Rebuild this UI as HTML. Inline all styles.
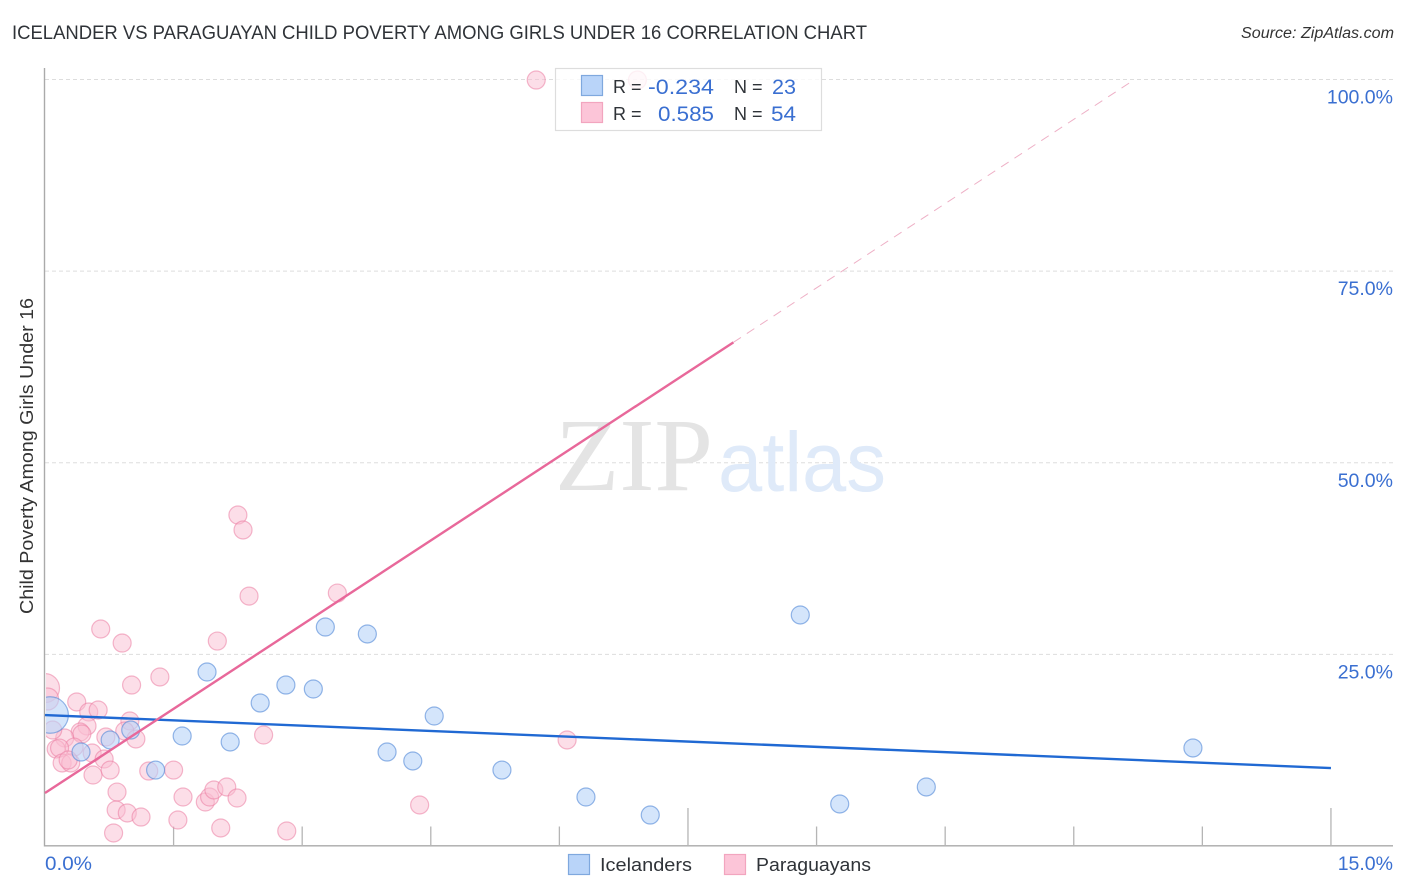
<!DOCTYPE html>
<html>
<head>
<meta charset="utf-8">
<title>Icelander vs Paraguayan Child Poverty Correlation Chart</title>
<style>
html,body{margin:0;padding:0;background:#fff;}
svg{display:block;font-family:"Liberation Sans",sans-serif;}
</style>
</head>
<body>
<svg id="chart" width="1406" height="892" viewBox="0 0 1406 892" xmlns="http://www.w3.org/2000/svg">
  <defs><clipPath id="plot-clip"><rect x="46" y="60" width="1347" height="786"/></clipPath></defs>
  <rect width="1406" height="892" fill="#fff"/>
  <text x="12" y="39" font-size="19" fill="#2f3338" textLength="855" lengthAdjust="spacingAndGlyphs">ICELANDER VS PARAGUAYAN CHILD POVERTY AMONG GIRLS UNDER 16 CORRELATION CHART</text>
  <text x="1241" y="38" font-size="15.5" font-style="italic" fill="#333" textLength="153" lengthAdjust="spacingAndGlyphs">Source: ZipAtlas.com</text>
  <g id="grid"></g>
  <g>
    <text x="555" y="490" font-family="'Liberation Serif',serif" font-size="104" fill="#e4e4e4" textLength="158" lengthAdjust="spacingAndGlyphs">ZIP</text>
    <text x="718" y="491" font-size="84" fill="#dfeaf9" textLength="168" lengthAdjust="spacingAndGlyphs">atlas</text>
  </g>
  <g id="axes"></g>
  <g id="points-paraguayans" clip-path="url(#plot-clip)"></g>
  <g id="points-icelanders" clip-path="url(#plot-clip)"></g>
  <g id="trends"></g>
  <text transform="translate(33,456) rotate(-90)" font-size="18" fill="#333" text-anchor="middle" textLength="316" lengthAdjust="spacingAndGlyphs">Child Poverty Among Girls Under 16</text>

  <g>
    <rect x="555.5" y="68.5" width="266" height="62" fill="#fff" fill-opacity="0.8" stroke="#ddd" stroke-width="1.2"/>
    <rect x="581.5" y="75.5" width="21" height="20" fill="#b9d4f9" stroke="#7fa8de" stroke-width="1.2"/>
    <rect x="581.5" y="102.5" width="21" height="20" fill="#fcc5d8" stroke="#f2a5bf" stroke-width="1.2"/>
    <g font-size="18" fill="#2f3338">
      <text x="613" y="93">R =</text>
      <text x="613" y="120">R =</text>
      <text x="734" y="93">N =</text>
      <text x="734" y="120">N =</text>
    </g>
    <g font-size="21.5" fill="#3a6fd1">
      <text x="648" y="94" textLength="66" lengthAdjust="spacingAndGlyphs">-0.234</text>
      <text x="658" y="121" textLength="56" lengthAdjust="spacingAndGlyphs">0.585</text>
      <text x="772" y="94" textLength="24" lengthAdjust="spacingAndGlyphs">23</text>
      <text x="771" y="121" textLength="25" lengthAdjust="spacingAndGlyphs">54</text>
    </g>
  </g>

  <g>
    <rect x="568.5" y="854.5" width="21" height="20" fill="#b9d4f9" stroke="#7fa8de" stroke-width="1.2"/>
    <text x="600" y="871" font-size="18.5" fill="#2f3338" textLength="92" lengthAdjust="spacingAndGlyphs">Icelanders</text>
    <rect x="724.5" y="854.5" width="21" height="20" fill="#fcc5d8" stroke="#f2a5bf" stroke-width="1.2"/>
    <text x="756" y="871" font-size="18.5" fill="#2f3338" textLength="115" lengthAdjust="spacingAndGlyphs">Paraguayans</text>
  </g>
</svg>
<script>
var yTickValues = [25, 50, 75, 100];
var yTickLabels = ["25.0%", "50.0%", "75.0%", "100.0%"];
var xTickValues = [1.5, 3, 4.5, 6, 7.5, 9, 10.5, 12, 13.5, 15];
var xMajorTicks = [7.5, 15];
var xEndLabels = ["0.0%", "15.0%"];

var icelanderX = [0.06,0.42,0.76,1.00,1.29,1.60,1.89,2.16,2.51,2.81,3.13,3.27,3.76,3.99,4.29,4.54,5.33,6.31,7.06,8.81,9.27,10.28,13.39];
var icelanderY = [17.09,12.26,13.83,15.13,9.91,14.35,22.70,13.57,18.66,21.00,20.48,28.57,27.66,12.26,11.09,16.96,9.91,6.39,4.04,30.14,5.48,7.70,12.79];
var icelanderWeight = [4.1,1,1,1,1,1,1,1,1,1,1,1,1,1,1,1,1,1,1,1,1,1,1];

var paraguayanX = [5.73,6.91,0.00,0.03,2.25,2.31,2.38,3.41,0.65,0.90,2.01,1.01,1.34,0.37,0.51,0.62,0.49,0.41,0.43,0.23,0.09,0.34,0.13,0.17,0.20,0.30,0.27,0.55,0.69,0.56,0.76,0.71,0.99,0.93,1.06,1.21,1.50,0.84,0.83,0.96,1.12,0.80,1.61,1.55,1.87,1.92,1.97,2.12,2.24,2.05,2.82,2.55,4.37,6.09];
var paraguayanY = [99.93,99.93,20.60,19.18,43.18,41.23,32.60,33.00,28.31,26.48,26.74,21.00,22.05,18.79,17.48,17.74,15.66,14.87,14.61,14.09,15.13,12.91,12.65,12.78,10.83,10.83,11.22,12.13,11.35,9.26,9.91,14.22,16.31,15.00,13.96,9.78,9.91,7.04,4.70,4.31,3.78,1.70,6.39,3.39,5.74,6.39,7.31,7.70,6.26,2.35,1.96,14.48,5.35,13.83];
var paraguayanWeight = [1,1,2.6,1.5,1,1,1,1,1,1,1,1,1,1,1,1,1,1,1,1,1,1,1,1,1,1,1,1,1,1,1,1,1,1,1,1,1,1,1,1,1,1,1,1,1,1,1,1,1,1,1,1,1,1];

var icelanderTrendX = [0, 15];
var icelanderTrendY = [17.08, 10.17];
var paraguayanTrendX = [0, 8.03];
var paraguayanTrendY = [6.91, 65.71];
var paraguayanDashX = [8.03, 12.71];
var paraguayanDashY = [65.71, 100];

var NS = 'http://www.w3.org/2000/svg';
function xScale(v) { return 45 + v * 85.73; }
function yScale(v) { return 846 - v * 7.665; }
function radius(w) { return 9 * Math.sqrt(w); }
function make(tag, parentId, attrs) {
  var el = document.createElementNS(NS, tag);
  for (var k in attrs) el.setAttribute(k, attrs[k]);
  document.getElementById(parentId).appendChild(el);
  return el;
}

yTickValues.forEach(function (v, i) {
  var g = make('line', 'grid', {x1: 45, x2: 1393, y1: yScale(v), y2: yScale(v), stroke: '#ddd', 'stroke-width': 1, 'stroke-dasharray': '4 3'});
  
  
  var t = make('text', 'axes', {x: 1393, y: yScale(v) + 24, 'font-size': 19.5, fill: '#3a6fd1', 'text-anchor': 'end'});
  t.textContent = yTickLabels[i];
  
  
});

var yAxis = make('line', 'axes', {x1: 44.5, x2: 44.5, y1: 68, y2: 846.5, stroke: '#aaa', 'stroke-width': 1.4});


var xAxis = make('line', 'axes', {x1: 44, x2: 1393, y1: 845.8, y2: 845.8, stroke: '#aaa', 'stroke-width': 1.4});



xTickValues.forEach(function (v) {
  var top = xMajorTicks.indexOf(v) >= 0 ? 808 : 826.5;
  var tick = make('line', 'axes', {x1: xScale(v), x2: xScale(v), y1: top, y2: 846, stroke: '#b5b5b5', 'stroke-width': 1.3});
  
  
});

var x0 = make('text', 'axes', {x: 45, y: 870, 'font-size': 19.5, fill: '#3a6fd1', textLength: 47, lengthAdjust: 'spacingAndGlyphs'});
x0.textContent = xEndLabels[0];


var x1 = make('text', 'axes', {x: 1393, y: 870, 'font-size': 19.5, fill: '#3a6fd1', 'text-anchor': 'end'});
x1.textContent = xEndLabels[1];



paraguayanX.forEach(function (v, i) {
  var c = make('circle', 'points-paraguayans', {cx: xScale(v), cy: yScale(paraguayanY[i]), r: radius(paraguayanWeight[i]), fill: 'rgba(250,190,210,0.5)', stroke: 'rgba(235,125,162,0.55)', 'stroke-width': 1.2});
  
  
});
icelanderX.forEach(function (v, i) {
  var c = make('circle', 'points-icelanders', {cx: xScale(v), cy: yScale(icelanderY[i]), r: radius(icelanderWeight[i]), fill: 'rgba(184,212,248,0.6)', stroke: 'rgba(80,135,215,0.6)', 'stroke-width': 1.2});
  
  
});

var tb = make('line', 'trends', {x1: xScale(icelanderTrendX[0]), y1: yScale(icelanderTrendY[0]), x2: xScale(icelanderTrendX[1]), y2: yScale(icelanderTrendY[1]), stroke: '#2069d3', 'stroke-width': 2.4});


var tp = make('line', 'trends', {x1: xScale(paraguayanTrendX[0]), y1: yScale(paraguayanTrendY[0]), x2: xScale(paraguayanTrendX[1]), y2: yScale(paraguayanTrendY[1]), stroke: '#e8689a', 'stroke-width': 2.4});


var td = make('line', 'trends', {x1: xScale(paraguayanDashX[0]), y1: yScale(paraguayanDashY[0]), x2: xScale(paraguayanDashX[1]), y2: yScale(paraguayanDashY[1]), stroke: '#eeb0c6', 'stroke-width': 1, 'stroke-dasharray': '9 7'});


</script>
</body>
</html>
